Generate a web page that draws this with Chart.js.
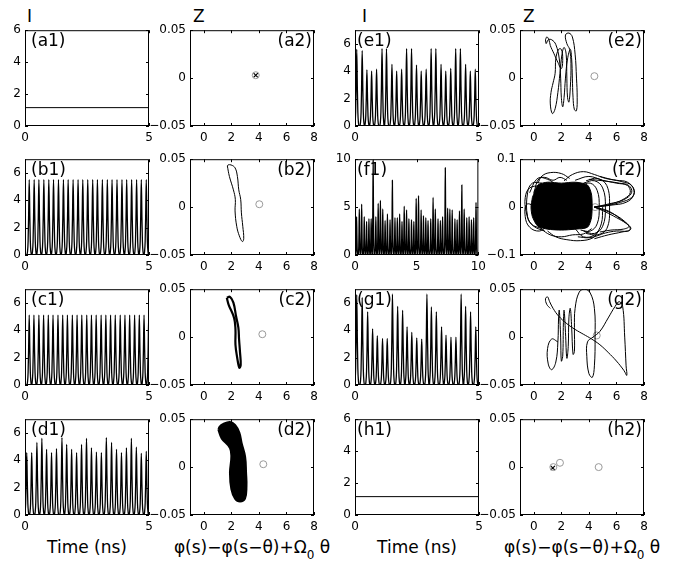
<!DOCTYPE html>
<html>
<head>
<meta charset="utf-8">
<script src="https://cdn.jsdelivr.net/npm/chart.js@4.4.0/dist/chart.umd.min.js"></script>
<style>
  body { margin: 0; background: #fff; width: 673px; height: 565px; position: relative; overflow: hidden; font-family: 'DejaVu Sans', sans-serif; }
  canvas { position: absolute; }
  .lbl { position: absolute; color: #000; white-space: nowrap; line-height: 1; }
  .axname { font-size: 17px; top: 8px; }
  .xtitle { font-size: 17px; top: 539px; width: 220px; text-align: center; }
  .xtitle sub { font-size: 12px; vertical-align: -6px; }
</style>
</head>
<body>
<div class="lbl axname" style="left:27px">I</div>
<div class="lbl axname" style="left:193px">Z</div>
<div class="lbl axname" style="left:362px">I</div>
<div class="lbl axname" style="left:523px">Z</div>
<div class="lbl xtitle" style="left:-23px">Time (ns)</div>
<div class="lbl xtitle" style="left:142px">&phi;(s)&minus;&phi;(s&minus;&theta;)+&Omega;<sub>0</sub> &theta;</div>
<div class="lbl xtitle" style="left:307px">Time (ns)</div>
<div class="lbl xtitle" style="left:472px">&phi;(s)&minus;&phi;(s&minus;&theta;)+&Omega;<sub>0</sub> &theta;</div>
<script>
// ---- tick labels ----
const timeTicks = [0, 5];
const timeTicksLong = [0, 5, 10];
const intensityTicks = [0, 2, 4, 6];
const intensityTicksLong = [0, 5, 10];
const phaseTicks = [0, 2, 4, 6, 8];
const zTicks = [-0.05, 0, 0.05];
const zTicksWide = [-0.1, 0, 0.1];

// ---- column 1 / 3 : intensity vs time ----
const a1Level = 1.15;
const h1Level = 1.15;

const b1Times = [0.17, 0.37, 0.56, 0.76, 0.96, 1.15, 1.35, 1.55, 1.74, 1.94, 2.14, 2.33, 2.53, 2.73, 2.92, 3.12, 3.32, 3.51, 3.71, 3.91, 4.10, 4.30, 4.50, 4.69, 4.89];
const b1Peaks = [5.5, 5.5, 5.5, 5.5, 5.5, 5.5, 5.5, 5.5, 5.5, 5.5, 5.5, 5.5, 5.5, 5.5, 5.5, 5.5, 5.5, 5.5, 5.5, 5.5, 5.5, 5.5, 5.5, 5.5, 5.5];

const c1Times = [0.17, 0.36, 0.56, 0.75, 0.94, 1.13, 1.33, 1.52, 1.71, 1.91, 2.10, 2.29, 2.49, 2.68, 2.87, 3.07, 3.26, 3.45, 3.64, 3.84, 4.03, 4.22, 4.42, 4.61, 4.80, 4.99];
const c1Peaks = [5.1, 5.1, 5.1, 5.1, 5.1, 5.1, 5.1, 5.1, 5.1, 5.1, 5.1, 5.1, 5.1, 5.1, 5.1, 5.1, 5.1, 5.1, 5.1, 5.1, 5.1, 5.1, 5.1, 5.1, 5.1, 5.1];

const d1Times = [0.07, 0.27, 0.48, 0.68, 0.87, 1.07, 1.27, 1.49, 1.68, 1.88, 2.08, 2.28, 2.48, 2.68, 2.88, 3.08, 3.28, 3.49, 3.69, 3.89, 4.09, 4.29, 4.49, 4.69, 4.89];
const d1Peaks = [4.55, 4.55, 5.3, 5.6, 4.8, 4.55, 4.85, 5.65, 5.15, 4.8, 4.55, 5.15, 5.6, 4.9, 4.6, 4.55, 5.65, 5.3, 4.8, 4.55, 4.9, 5.6, 4.95, 4.5, 4.65];

const e1Times = [0.07, 0.29, 0.48, 0.67, 0.87, 1.09, 1.27, 1.49, 1.68, 1.88, 2.08, 2.28, 2.48, 2.67, 2.87, 3.07, 3.26, 3.47, 3.66, 3.86, 4.06, 4.25, 4.46, 4.65, 4.85];
const e1Peaks = [5.6, 5.5, 4.1, 4.0, 4.15, 5.65, 5.65, 4.5, 4.0, 4.15, 5.65, 5.65, 4.45, 4.0, 4.15, 5.65, 5.65, 4.5, 4.0, 4.2, 5.65, 5.65, 4.5, 4.0, 4.15];

const f1Times = [0.13, 0.35, 0.54, 0.75, 0.94, 1.13, 1.31, 1.47, 1.69, 1.88, 2.06, 2.25, 2.44, 2.63, 2.84, 3.03, 3.24, 3.43, 3.62, 3.81, 3.99, 4.18, 4.37, 4.58, 4.77, 4.96, 5.15, 5.36, 5.55, 5.74, 5.92, 6.14, 6.33, 6.51, 6.73, 6.92, 7.10, 7.32, 7.51, 7.69, 7.88, 8.10, 8.28, 8.47, 8.66, 8.85, 9.06, 9.25, 9.44, 9.62, 9.81];
const f1Peaks = [4.0, 4.8, 5.3, 4.0, 3.5, 3.8, 3.8, 9.9, 4.0, 5.4, 5.7, 4.8, 3.6, 4.3, 3.7, 7.8, 3.9, 3.9, 4.3, 3.5, 5.1, 4.7, 3.8, 3.7, 3.5, 5.9, 6.2, 4.7, 4.1, 3.9, 3.6, 3.8, 6.0, 4.8, 3.8, 3.6, 4.0, 9.1, 4.9, 4.8, 4.7, 3.8, 3.7, 4.6, 7.3, 4.8, 3.9, 4.0, 3.7, 3.9, 5.5];

const g1Times = [0.07, 0.29, 0.51, 0.71, 0.90, 1.11, 1.30, 1.51, 1.72, 1.92, 2.10, 2.29, 2.49, 2.69, 2.90, 3.08, 3.28, 3.49, 3.67, 3.87, 4.07, 4.28, 4.46, 4.66, 4.87];
const g1Peaks = [6.6, 6.4, 5.35, 4.1, 3.6, 3.4, 3.4, 6.65, 5.75, 5.45, 4.25, 3.85, 3.45, 3.35, 6.65, 5.7, 5.35, 4.25, 3.65, 3.5, 3.5, 6.65, 5.75, 5.35, 4.25];

// pulse profile around each peak (time offset in ns, fraction of peak)
const pulseOffsets = [-0.1, -0.07, -0.045, -0.025, 0, 0.025, 0.045, 0.07, 0.1];
const pulseShape = [0, 0.04, 0.18, 0.5, 1, 0.5, 0.18, 0.04, 0];

// ---- column 2 / 4 : phase portraits ----
const b2Loop = [[1.71, 0.043], [1.86, 0.032], [2.15, 0.018], [2.29, 0.008], [2.27, -0.004], [2.39, -0.02], [2.58, -0.03], [2.8, -0.036], [2.9, -0.033], [2.83, -0.02], [2.73, -0.006], [2.68, 0.008], [2.54, 0.018], [2.44, 0.032], [2.27, 0.041], [1.98, 0.044], [1.76, 0.044], [1.71, 0.043]];
const c2Loop = [[1.67, 0.041], [1.8, 0.034], [2.2, 0.02], [2.3, 0.008], [2.3, -0.008], [2.42, -0.021], [2.58, -0.032], [2.68, -0.029], [2.63, -0.016], [2.56, -0.002], [2.51, 0.01], [2.34, 0.022], [2.15, 0.036], [1.9, 0.042], [1.67, 0.041]];
const d2Blob = [[1.06, 0.039], [1.3, 0.03], [1.9, 0.02], [2.0, 0.011], [1.9, -0.006], [2.0, -0.023], [2.27, -0.033], [2.63, -0.036], [2.99, -0.033], [3.1, -0.02], [3.07, -0.006], [3.0, 0.011], [2.75, 0.025], [2.58, 0.036], [2.27, 0.044], [1.9, 0.047], [1.42, 0.045], [1.14, 0.042], [1.06, 0.039]];
const e2Path = [[0.85, 0.040], [0.95, 0.043], [1.1, 0.040], [1.2, 0.034], [1.45, 0.026], [1.7, 0.018], [2.0, 0.010], [2.1, 0.02], [2.0, 0.03], [1.8, 0.03], [1.6, 0.02], [1.55, 0.005], [1.4, -0.005], [1.25, -0.015], [1.2, -0.027], [1.35, -0.037], [1.55, -0.032], [1.75, -0.015], [1.9, 0.005], [2.05, 0.025], [2.2, 0.032], [2.35, 0.025], [2.4, 0.0], [2.45, -0.02], [2.55, -0.025], [2.65, -0.01], [2.7, 0.015], [2.6, 0.03], [2.4, 0.036], [2.3, 0.045], [2.55, 0.047], [2.8, 0.043], [3.0, 0.025], [3.1, 0.0], [3.15, -0.02], [3.1, -0.034], [2.95, -0.033], [2.85, -0.02], [2.8, 0.0], [2.75, 0.02], [2.65, 0.03], [2.45, 0.02], [2.3, 0.0], [2.2, -0.02], [2.1, -0.03], [2.0, -0.02], [1.95, 0.0], [1.85, 0.02], [1.6, 0.035], [1.3, 0.04], [1.05, 0.04], [0.9, 0.036], [0.85, 0.04]];
const f2Core = [[-0.1, 0.02], [0.3, 0.046], [1.0, 0.052], [2.0, 0.05], [3.0, 0.052], [3.9, 0.046], [4.2, 0.025], [4.2, -0.02], [3.9, -0.042], [3.0, -0.046], [2.0, -0.048], [1.0, -0.046], [0.3, -0.04], [-0.1, -0.02], [-0.2, 0.0], [-0.1, 0.02]];
const f2Loop1 = [[0.5, 0.045], [-0.3, 0.04], [-0.62, 0.02], [-0.55, -0.01], [-0.2, -0.035], [0.6, -0.045]];
const f2Loop2 = [[0.6, 0.05], [-0.1, 0.05], [-0.45, 0.03], [-0.45, -0.02], [0.0, -0.04], [0.8, -0.05]];
const f2Loop3 = [[0.3, 0.05], [0.6, 0.065], [1.2, 0.072], [2.0, 0.07], [2.6, 0.06]];
const f2Loop4 = [[2.2, 0.055], [2.8, 0.068], [3.6, 0.074], [4.4, 0.068], [5.2, 0.06], [6.0, 0.056], [6.8, 0.052], [7.3, 0.035], [7.1, 0.02], [6.3, 0.01], [5.4, 0.004], [4.4, 0.0]];
const f2Loop5 = [[3.0, 0.056], [4.0, 0.064], [5.0, 0.056], [6.0, 0.05], [6.8, 0.045], [7.0, 0.03], [6.6, 0.018], [5.8, 0.008], [4.9, 0.002], [4.4, 0.0]];
const f2Loop6 = [[4.4, 0.0], [5.2, -0.01], [6.0, -0.022], [6.7, -0.034], [7.05, -0.044], [6.8, -0.05], [6.0, -0.05], [5.2, -0.054], [4.6, -0.06], [4.0, -0.064], [3.2, -0.062]];
const f2Loop7 = [[1.0, -0.05], [1.6, -0.062], [2.4, -0.068], [3.4, -0.07], [4.3, -0.064], [4.7, -0.05]];
const f2Loop8 = [[3.6, 0.05], [4.4, 0.055], [5.0, 0.04], [5.2, 0.0], [5.0, -0.04], [4.4, -0.055], [3.6, -0.05]];
const f2Loop9 = [[3.4, 0.045], [4.1, 0.05], [4.6, 0.035], [4.75, 0.0], [4.6, -0.035], [4.1, -0.05], [3.4, -0.048]];
const f2Loop10 = [[-0.3, 0.03], [0.2, 0.058], [0.8, 0.062], [1.4, 0.056], [1.9, 0.062], [2.4, 0.056]];
const f2Loop11 = [[0.2, 0.0], [-0.5, 0.006], [-0.62, -0.02], [-0.3, -0.042], [0.4, -0.05], [1.0, -0.04]];
const f2Loop12 = [[0.5, -0.045], [1.2, -0.058], [2.0, -0.062], [2.8, -0.058], [3.6, -0.056], [4.2, -0.045]];
const f2Loop13 = [[4.4, 0.0], [5.5, 0.007], [6.5, 0.015], [7.1, 0.03], [6.9, 0.045], [6.2, 0.05], [5.0, 0.055], [4.0, 0.058]];
const f2Loop14 = [[4.4, 0.0], [5.4, -0.008], [6.3, -0.025], [6.9, -0.04], [6.5, -0.046], [5.6, -0.048], [4.8, -0.052]];
const f2Loop15 = [[3.8, 0.055], [4.6, 0.06], [5.3, 0.045], [5.5, 0.0], [5.3, -0.045], [4.6, -0.058], [3.8, -0.055]];
const f2Loop16 = [[4.4, 0.0], [5.6, 0.004], [6.7, 0.01], [7.25, 0.025], [7.1, 0.045], [6.4, 0.053], [5.6, 0.058], [4.8, 0.064]];
const f2Loop17 = [[4.4, 0.0], [5.6, -0.012], [6.6, -0.03], [7.0, -0.047], [6.4, -0.052], [5.4, -0.058], [4.4, -0.066]];
const f2Loop18 = [[0.0, 0.03], [0.4, 0.06], [1.0, 0.058], [1.5, 0.05]];
const f2Loop19 = [[3.0, -0.045], [3.6, -0.062], [4.4, -0.058], [4.9, -0.035], [5.0, 0.0]];
const g2Path = [[1.75, -0.005], [1.3, -0.002], [1.0, -0.012], [1.05, -0.028], [1.3, -0.034], [1.6, -0.026], [1.75, -0.005], [1.8, 0.02], [1.85, 0.028], [1.95, 0.0], [2.0, -0.025], [2.1, -0.02], [2.15, 0.015], [2.2, 0.028], [2.3, 0.005], [2.4, -0.022], [2.5, -0.01], [2.55, 0.02], [2.65, 0.03], [2.75, 0.01], [2.85, -0.018], [2.95, -0.015], [2.95, 0.01], [3.0, 0.03], [3.3, 0.047], [3.7, 0.05], [4.1, 0.046], [4.4, 0.03], [4.45, 0.0], [4.4, -0.03], [4.25, -0.042], [4.0, -0.038], [3.85, -0.02], [3.9, -0.005], [4.3, 0.0], [4.8, 0.006], [5.4, 0.02], [5.9, 0.032], [6.2, 0.037], [6.45, 0.032], [6.6, 0.0], [6.7, -0.03], [6.75, -0.04], [6.55, -0.035], [6.0, -0.025], [5.4, -0.016], [4.8, -0.008], [4.2, -0.002], [3.6, 0.003], [3.0, 0.008], [2.4, 0.014], [1.8, 0.022], [1.4, 0.03], [1.15, 0.037], [1.0, 0.042], [0.85, 0.04], [0.95, 0.034], [1.2, 0.03]];

// fixed points (grey circles) and current state (cross)
const a2Circles = [[3.77, 0.003]];
const a2Cross = [[3.77, 0.003]];
const b2Circles = [[4.03, 0.003]];
const c2Circles = [[4.25, 0.003]];
const d2Circles = [[4.32, 0.003]];
const e2Circles = [[4.4, 0.002]];
const f2Circles = [[4.45, 0.0]];
const g2Circles = [[4.57, 0.0017]];
const h2Circles = [[1.42, 0.0], [1.9, 0.0045], [4.71, 0.0]];
const h2Cross = [[1.38, -0.001]];

// ---- layout ----
const colLeft = [25, 190, 355, 520];
const rowTop = [29, 158, 288, 418];
const PW = 124, PH = 97;
const YW = 44, XH = 24, PT = 10, PR = 12;

Chart.defaults.font.family = "'DejaVu Sans', sans-serif";
Chart.defaults.color = '#000';

const toXY = arr => arr.map(([x, y]) => ({ x, y }));

function spikeTrain(times, peaks) {
    const pts = [];
    times.forEach((t, i) => {
        pulseOffsets.forEach((dt, k) => pts.push({ x: t + dt, y: peaks[i] * pulseShape[k] }));
    });
    pts.sort((p, q) => p.x - q.x);
    return pts;
}

function fmt(v) {
    if (v === 0) return '0';
    return (v < 0 ? '\u2212' : '') + Math.abs(v);
}

// frame, inward tick marks and panel label, drawn like the matlab axes
const framePlugin = {
    id: 'frame',
    afterDatasetsDraw(chart, args, opts) {
        const { ctx, chartArea: a, scales: { x, y } } = chart;
        ctx.save();
        ctx.strokeStyle = '#000';
        ctx.lineWidth = 1;
        ctx.strokeRect(a.left + 0.5, a.top + 0.5, a.width - 1, a.height - 1);
        ctx.beginPath();
        x.ticks.forEach(t => {
            const px = Math.round(x.getPixelForValue(t.value)) + 0.5;
            ctx.moveTo(px, a.bottom); ctx.lineTo(px, a.bottom - 3);
            ctx.moveTo(px, a.top); ctx.lineTo(px, a.top + 3);
        });
        y.ticks.forEach(t => {
            const py = Math.round(y.getPixelForValue(t.value)) + 0.5;
            ctx.moveTo(a.left, py); ctx.lineTo(a.left + 3, py);
            ctx.moveTo(a.right, py); ctx.lineTo(a.right - 3, py);
        });
        ctx.stroke();
        ctx.font = "17px 'DejaVu Sans'";
        ctx.fillStyle = '#000';
        ctx.textBaseline = 'top';
        if (opts.align === 'right') {
            ctx.textAlign = 'right';
            ctx.fillText(opts.label, a.right - 2, a.top + 3);
        } else {
            ctx.textAlign = 'left';
            ctx.fillText(opts.label, a.left + opts.inset, a.top + 3);
        }
        ctx.restore();
    }
};

function traceDs(pts, extra) {
    return Object.assign({ data: pts, showLine: true, borderColor: '#000', borderWidth: 1, pointRadius: 0, fill: false, tension: 0 }, extra || {});
}
function circleDs(arr) {
    return { data: toXY(arr), showLine: false, pointStyle: 'circle', pointRadius: 3.5, borderColor: '#999', backgroundColor: 'rgba(0,0,0,0)', borderWidth: 1 };
}
function crossDs(arr) {
    return { data: toXY(arr), showLine: false, pointStyle: 'crossRot', pointRadius: 3, borderColor: '#000', borderWidth: 1.2 };
}

function makePanel(p) {
    const canvas = document.createElement('canvas');
    canvas.width = YW + PW + PR;
    canvas.height = PT + PH + XH;
    canvas.style.left = (colLeft[p.col] - YW) + 'px';
    canvas.style.top = (rowTop[p.row] - PT) + 'px';
    document.body.appendChild(canvas);
    const right = p.col % 2 === 1;
    new Chart(canvas, {
        type: 'scatter',
        data: { datasets: p.datasets },
        options: {
            responsive: false,
            animation: false,
            events: [],
            layout: { padding: { top: PT, right: PR, left: 0, bottom: 0 } },
            plugins: {
                legend: { display: false },
                tooltip: { enabled: false },
                frame: { label: p.label, align: right ? 'right' : 'left', inset: p.col === 0 ? 6 : 2 }
            },
            scales: {
                x: {
                    type: 'linear', min: p.xMin, max: p.xMax,
                    grid: { display: false, drawTicks: false },
                    border: { display: false },
                    ticks: { font: { size: 12 }, color: '#000', padding: 5, maxRotation: 0, autoSkip: false, callback: fmt },
                    afterBuildTicks: s => { s.ticks = p.xTicks.map(v => ({ value: v })); },
                    afterFit: s => { s.height = XH; }
                },
                y: {
                    type: 'linear', min: p.yMin, max: p.yMax,
                    grid: { display: false, drawTicks: false },
                    border: { display: false },
                    ticks: { font: { size: 12 }, color: '#000', padding: 4, autoSkip: false, callback: fmt },
                    afterBuildTicks: s => { s.ticks = p.yTicks.map(v => ({ value: v })); },
                    afterFit: s => { s.width = YW; }
                }
            }
        },
        plugins: [framePlugin]
    });
}

function timePanel(col, row, label, datasets, yMax, yTicks, xMax, xTicks) {
    makePanel({ col, row, label, datasets, xMin: 0, xMax: xMax || 5, xTicks: xTicks || timeTicks, yMin: 0, yMax, yTicks });
}
function phasePanel(col, row, label, datasets, wide) {
    makePanel({ col, row, label, datasets, xMin: -1, xMax: 8, xTicks: phaseTicks, yMin: wide ? -0.1 : -0.05, yMax: wide ? 0.1 : 0.05, yTicks: wide ? zTicksWide : zTicks });
}

const spikes = { cubicInterpolationMode: 'monotone', borderWidth: 1.3 };
const smooth = { tension: 0.4 };

// left half
timePanel(0, 0, '(a1)', [traceDs([{ x: 0, y: a1Level }, { x: 5, y: a1Level }])], 6, intensityTicks);
phasePanel(1, 0, '(a2)', [circleDs(a2Circles), crossDs(a2Cross)]);
timePanel(0, 1, '(b1)', [traceDs(spikeTrain(b1Times, b1Peaks), spikes)], 7, intensityTicks);
phasePanel(1, 1, '(b2)', [traceDs(toXY(b2Loop), smooth), circleDs(b2Circles)]);
timePanel(0, 2, '(c1)', [traceDs(spikeTrain(c1Times, c1Peaks), spikes)], 7, intensityTicks);
phasePanel(1, 2, '(c2)', [traceDs(toXY(c2Loop), Object.assign({ borderWidth: 2.2 }, smooth)), circleDs(c2Circles)]);
timePanel(0, 3, '(d1)', [traceDs(spikeTrain(d1Times, d1Peaks), spikes)], 7, intensityTicks);
phasePanel(1, 3, '(d2)', [traceDs(toXY(d2Blob), Object.assign({ fill: 'shape', backgroundColor: '#000', borderWidth: 2 }, smooth)), circleDs(d2Circles)]);

// right half
timePanel(2, 0, '(e1)', [traceDs(spikeTrain(e1Times, e1Peaks), spikes)], 7, intensityTicks);
phasePanel(3, 0, '(e2)', [traceDs(toXY(e2Path), smooth), circleDs(e2Circles)]);
timePanel(2, 1, '(f1)', [traceDs(spikeTrain(f1Times, f1Peaks), spikes)], 10, intensityTicksLong, 10, timeTicksLong);
const f2Loops = [f2Loop1, f2Loop2, f2Loop3, f2Loop4, f2Loop5, f2Loop6, f2Loop7, f2Loop8, f2Loop9, f2Loop10, f2Loop11, f2Loop12, f2Loop13, f2Loop14, f2Loop15, f2Loop16, f2Loop17, f2Loop18, f2Loop19];
phasePanel(3, 1, '(f2)', [traceDs(toXY(f2Core), { fill: 'shape', backgroundColor: '#000', tension: 0.25 })]
    .concat(f2Loops.map(l => traceDs(toXY(l), smooth)))
    .concat([circleDs(f2Circles)]), true);
timePanel(2, 2, '(g1)', [traceDs(spikeTrain(g1Times, g1Peaks), spikes)], 7, intensityTicks);
phasePanel(3, 2, '(g2)', [traceDs(toXY(g2Path), smooth), circleDs(g2Circles)]);
timePanel(2, 3, '(h1)', [traceDs([{ x: 0, y: h1Level }, { x: 5, y: h1Level }])], 6, intensityTicks);
phasePanel(3, 3, '(h2)', [circleDs(h2Circles), crossDs(h2Cross)]);
</script>
</body>
</html>
